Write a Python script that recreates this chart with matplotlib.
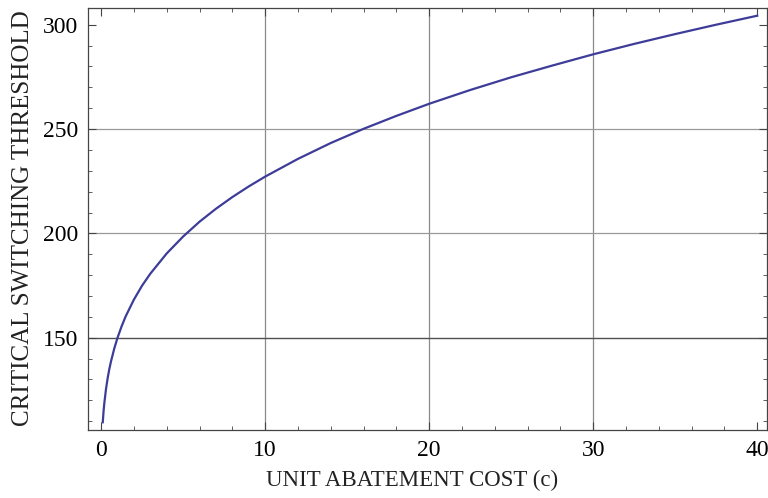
import numpy as np
import matplotlib.pyplot as plt
from matplotlib.ticker import MultipleLocator

# values
cost = [0.1, 0.15, 0.2, 0.3, 0.4, 0.5, 0.6, 0.8, 1, 1.25, 1.5, 2, 2.5, 3, 4,
        5, 6, 7, 8, 9, 10, 12, 14, 16, 18, 20, 22.5, 25, 27.5, 30, 32.5, 35,
        37.5, 40]
threshold = [109.5, 114.9, 119.0, 125.6, 130.7, 135.0, 138.6, 144.8, 150.0,
             155.5, 160.3, 168.3, 175.0, 180.7, 190.4, 198.5, 205.6, 211.8,
             217.4, 222.5, 227.2, 235.7, 243.3, 250.1, 256.3, 262.1, 268.7,
             274.8, 280.4, 285.8, 290.8, 295.5, 300.0, 304.3]
xticks = [0, 10, 20, 30, 40]
yticks = [150, 200, 250, 300]

plt.rcParams['font.family'] = ['Liberation Serif', 'DejaVu Serif']

fig = plt.figure(figsize=(7.68, 4.98), dpi=100)
ax = fig.add_axes([88 / 768, 68 / 498, (767 - 88) / 768, (430 - 8) / 498])

# grid lines as in the reference (150 darker)
for gx in [10, 20, 30]:
    ax.axvline(gx, color='#8a8a8a', lw=0.9, zorder=1)
for gy in [200, 250]:
    ax.axhline(gy, color='#9a9a9a', lw=0.9, zorder=1)
ax.axhline(150, color='#505050', lw=1.0, zorder=1)

ax.plot(cost, threshold, color='#3d3d99', lw=1.6, zorder=3,
        solid_joinstyle='round')

ax.set_xlim(-0.8, 40.6)
ax.set_ylim(105.8, 308)
ax.set_xticks(xticks)
ax.set_yticks(yticks)
ax.xaxis.set_minor_locator(MultipleLocator(2))
ax.yaxis.set_minor_locator(MultipleLocator(10))
ax.tick_params(which='both', direction='in', top=True, right=True,
               labeltop=False, labelright=False, color='#444444')
ax.tick_params(which='major', length=6, width=0.8, labelsize=17, pad=7)
ax.tick_params(which='minor', length=3, width=0.6)
for s in ax.spines.values():
    s.set_color('#444444')
    s.set_linewidth(0.9)

ax.set_xlabel('UNIT ABATEMENT COST (c)', fontsize=16.5, color='#222222')
ax.xaxis.set_label_coords(0.477, -0.095)
ax.set_ylabel('CRITICAL SWITCHING THRESHOLD', fontsize=18, color='#222222')
ax.yaxis.set_label_coords(-0.08, 0.503)

fig.savefig('out.png', dpi=100)
